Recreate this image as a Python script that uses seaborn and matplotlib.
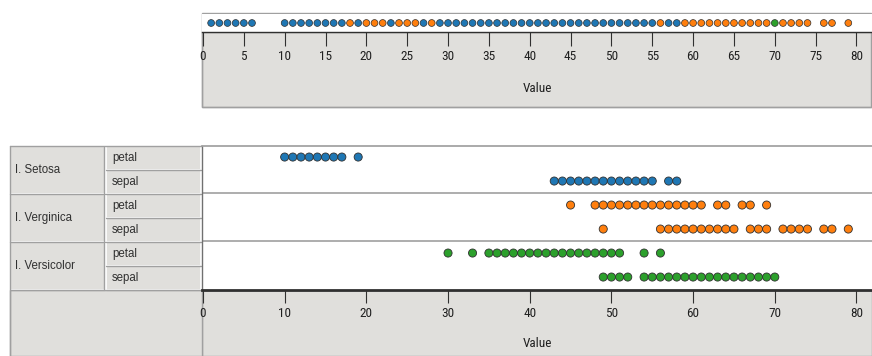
import numpy as np
import pandas as pd
import matplotlib
matplotlib.use("Agg")
import matplotlib.pyplot as plt
import seaborn as sns
from matplotlib.patches import Rectangle
from matplotlib import font_manager

# Row labels of the lower chart
species = ["I. Setosa", "I. Verginica", "I. Versicolor"]
parts = ["petal", "sepal"]

# Values, one list per row
setosa_petal = [10, 11, 12, 13, 14, 15, 16, 17, 19]
setosa_sepal = [43, 44, 45, 46, 47, 48, 49, 50, 51, 52, 53, 54, 55, 57, 58]
verginica_petal = [45, 48, 49, 50, 51, 52, 53, 54, 55, 56, 57, 58, 59, 60, 61,
                   63, 64, 66, 67, 69]
verginica_sepal = [49, 56, 57, 58, 59, 60, 61, 62, 63, 64, 65, 67, 68, 69,
                   71, 72, 73, 74, 76, 77, 79]
versicolor_petal = [30, 33, 35, 36, 37, 38, 39, 40, 41, 42, 43, 44, 45, 46, 47,
                    48, 49, 50, 51, 54, 56]
versicolor_sepal = [49, 50, 51, 52, 54, 55, 56, 57, 58, 59, 60, 61, 62, 63, 64,
                    65, 66, 67, 68, 69, 70]

# Values and classes of the overview strip on top
top_values = [1, 2, 3, 4, 5, 6,
              10, 11, 12, 13, 14, 15, 16, 17, 18, 19, 20, 21, 22, 23, 24, 25,
              26, 27, 28, 29, 30, 31, 32, 33, 34, 35, 36, 37, 38, 39, 40, 41,
              42, 43, 44, 45, 46, 47, 48, 49, 50, 51, 52, 53, 54, 55, 56, 57,
              58, 59, 60, 61, 62, 63, 64, 65, 66, 67, 68, 69, 70, 71, 72, 73,
              74, 76, 77, 79]
top_class = ["S"] * 6 + \
    ["S", "S", "S", "S", "S", "S", "S", "S", "V", "S", "V", "V", "V", "S",
     "V", "V", "V", "S", "V", "S"] + \
    ["S"] * 26 + \
    ["V", "S", "S"] + \
    ["V"] * 11 + ["C"] + ["V", "V", "V", "V", "V", "V", "V"]

x_ticks_top = [0, 5, 10, 15, 20, 25, 30, 35, 40, 45, 50, 55, 60, 65, 70, 75, 80]
x_ticks_main = [0, 10, 20, 30, 40, 50, 60, 70, 80]

palette = {"S": "#1f77b4", "V": "#ff7f0e", "C": "#2ca02c"}
row_lists = [setosa_petal, setosa_sepal, verginica_petal, verginica_sepal,
             versicolor_petal, versicolor_sepal]
row_class = ["S", "S", "V", "V", "C", "C"]

records = []
for i, vals in enumerate(row_lists):
    for v in vals:
        records.append({"value": v, "row": i, "cls": row_class[i]})
main_df = pd.DataFrame(records)
top_df = pd.DataFrame({"value": top_values, "y": 0, "cls": top_class})

sns.set_theme(style="white")
plt.rcParams["font.family"] = ["Liberation Sans", "DejaVu Sans"]

# pick a condensed face for the axis text if one is installed
installed = {f.name for f in font_manager.fontManager.ttflist}
narrow = [n for n in ["Liberation Sans Narrow", "DejaVu Sans Condensed",
                      "Roboto Condensed", "Open Sans Condensed"] if n in installed]
narrow = narrow[:1] + ["DejaVu Sans"]
narrow_stretch = "normal" if narrow[0] != "DejaVu Sans" else "condensed"

W, H = 872, 356
GRAY = "#e0dfdc"
EDGE = "#a0a0a0"
TXT = 9.5
fig = plt.figure(figsize=(8.72, 3.56), dpi=100)
fig.patch.set_facecolor("white")


def px_axes(x0, y0, x1, y1):
    return fig.add_axes([x0 / W, 1 - y1 / H, (x1 - x0) / W, (y1 - y0) / H])


# background layer in pixel coordinates
bg = px_axes(0, 0, W, H)
bg.set_xlim(0, W)
bg.set_ylim(H, 0)
bg.axis("off")
bg.set_zorder(-1)

# top chart frame
bg.add_patch(Rectangle((202, 32), 670, 75, facecolor=GRAY, edgecolor=EDGE, lw=1))
bg.add_patch(Rectangle((202, 13), 669, 94, facecolor="none", edgecolor=EDGE, lw=1))

# lower chart frame and table
bg.add_patch(Rectangle((202, 290), 670, 66, facecolor=GRAY, edgecolor=EDGE, lw=1))
bg.add_patch(Rectangle((10, 290), 192, 66, facecolor=GRAY, edgecolor=EDGE, lw=1))
for i, name in enumerate(species):
    y0 = 146 + 48 * i
    bg.add_patch(Rectangle((10, y0), 95, 48, facecolor=GRAY, edgecolor="white", lw=1.2))
    bg.plot([10, 105], [y0 + 48, y0 + 48], color=EDGE, lw=1)
    bg.plot([104, 104], [y0 + 1, y0 + 47], color=EDGE, lw=1)
    bg.text(15, y0 + 24, name, va="center", ha="left", fontsize=8.3, color="#303030")
    for j, part in enumerate(parts):
        yy = y0 + 24 * j
        bg.add_patch(Rectangle((106, yy), 95, 24, facecolor=GRAY, edgecolor="white", lw=1.2))
        bg.plot([106, 201], [yy + 24, yy + 24], color=EDGE, lw=1)
        bg.text(112, yy + 12, part, va="center", ha="left", fontsize=8.3, color="#303030")
bg.plot([10, 10], [146, 356], color=EDGE, lw=1)
bg.plot([10, 202], [146, 146], color=EDGE, lw=1)

xlim = (-0.12, 81.9)


def style_ticks(axis_obj, length, pad):
    axis_obj.tick_params(axis="x", bottom=True, direction="out", length=length,
                         width=0.8, color="#303030", pad=pad, labelcolor="#202020")
    for lbl in axis_obj.get_xticklabels():
        lbl.set_family(narrow)
        lbl.set_fontstretch(narrow_stretch)
        lbl.set_fontsize(TXT)


# overview strip
ax_top = px_axes(202, 14, 872, 32)
sns.scatterplot(data=top_df, x="value", y="y", hue="cls", palette=palette,
                s=24, edgecolor="#303030", linewidth=0.5, legend=False, ax=ax_top)
ax_top.set_xlim(*xlim)
ax_top.set_ylim(-1, 1)
ax_top.set_yticks([])
ax_top.set_ylabel("")
ax_top.set_xticks(x_ticks_top)
style_ticks(ax_top, 10, 3)
for s in ["top", "left", "right"]:
    ax_top.spines[s].set_visible(False)
ax_top.spines["bottom"].set_color("#303030")
ax_top.spines["bottom"].set_linewidth(1)
ax_top.set_xlabel("Value", fontsize=TXT, color="#202020", family=narrow,
                  fontstretch=narrow_stretch)
ax_top.xaxis.label.set_va("center")
ax_top.xaxis.set_label_coords(0.5, -3.15)

# main chart
ax = px_axes(202, 146, 872, 290)
sns.scatterplot(data=main_df, x="value", y="row", hue="cls", palette=palette,
                s=34, edgecolor="#303030", linewidth=0.6, legend=False, ax=ax)
ax.set_xlim(*xlim)
ax.set_ylim(5.54, -0.46)
ax.set_yticks([])
ax.set_ylabel("")
ax.axhline(1.5, color=EDGE, lw=1.2, zorder=0)
ax.axhline(3.5, color=EDGE, lw=1.2, zorder=0)
ax.set_xticks(x_ticks_main)
style_ticks(ax, 9.5, 2.5)
ax.spines["right"].set_visible(False)
ax.spines["top"].set_color(EDGE)
ax.spines["left"].set_color("#707070")
ax.spines["left"].set_linewidth(1)
ax.spines["bottom"].set_color("#303030")
ax.spines["bottom"].set_linewidth(2)
ax.set_xlabel("Value", fontsize=TXT, color="#202020", family=narrow,
              fontstretch=narrow_stretch)
ax.xaxis.label.set_va("center")
ax.xaxis.set_label_coords(0.5, -0.37)

fig.savefig("out.png", dpi=100)
